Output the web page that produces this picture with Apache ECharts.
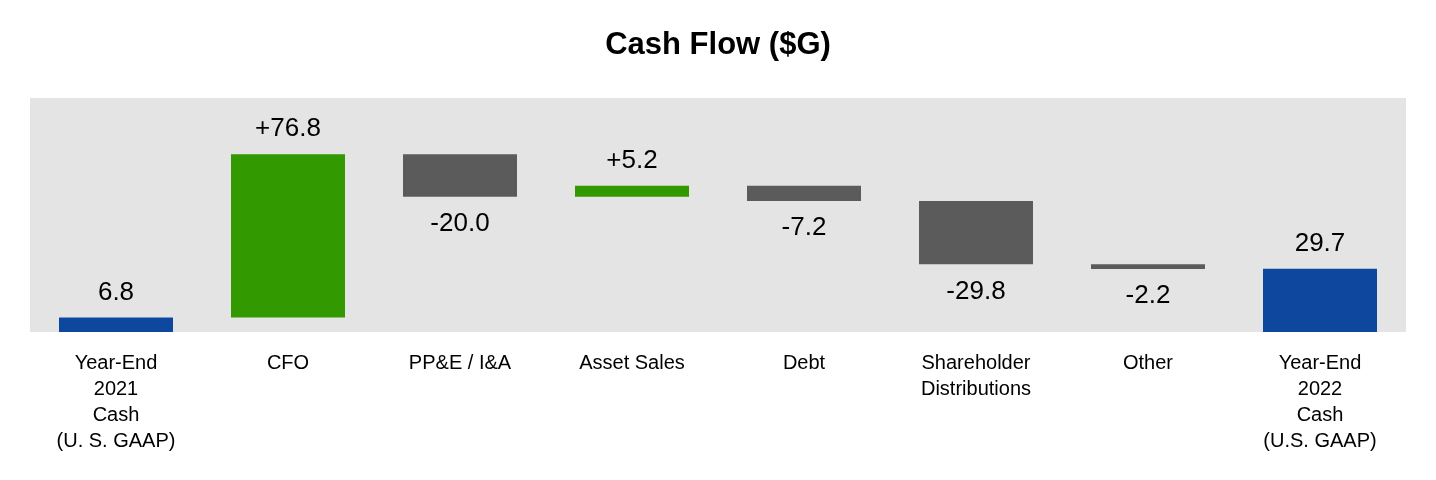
<!DOCTYPE html>
<html>
<head>
<meta charset="utf-8">
<script src="https://cdn.jsdelivr.net/npm/echarts@6/dist/echarts.min.js"></script>
<style>
  html, body { margin: 0; padding: 0; background: #fff; }
  #chart { width: 1436px; height: 480px; }
</style>
</head>
<body>
<div id="chart"></div>
<script>
// categories along the bottom
var categories = [
  'Year-End\n2021\nCash\n(U. S. GAAP)',
  'CFO',
  'PP&E / I&A',
  'Asset Sales',
  'Debt',
  'Shareholder\nDistributions',
  'Other',
  'Year-End\n2022\nCash\n(U.S. GAAP)'
];
// step values ($G), totals first/last
var changes = [6.8, 76.8, -20.0, 5.2, -7.2, -29.8, -2.2, 29.7];
var kinds = ['total', 'up', 'down', 'up', 'down', 'down', 'down', 'total'];
var valueLabels = ['6.8', '+76.8', '-20.0', '+5.2', '-7.2', '-29.8', '-2.2', '29.7'];

var colors = { total: '#0e479e', up: '#339900', down: '#5b5b5b' };
var font = "'Liberation Sans', Arial, sans-serif";

// build invisible base + visible step from the running total
var baseData = [];
var stepData = [];
var running = 0;
for (var i = 0; i < changes.length; i++) {
  var v = changes[i];
  var base;
  if (kinds[i] === 'total') {
    base = 0;
    running = v;
  } else if (v >= 0) {
    base = running;
    running += v;
  } else {
    running += v;
    base = running;
  }
  baseData.push(base);
  stepData.push({
    value: Math.abs(v),
    itemStyle: { color: colors[kinds[i]] },
    label: {
      position: v < 0 ? 'bottom' : 'top',
      distance: v < 0 ? 14 : 12,
      formatter: valueLabels[i]
    }
  });
}

var chart = echarts.init(document.getElementById('chart'));
chart.setOption({
  animation: false,
  title: {
    text: 'Cash Flow ($G)',
    left: 'center',
    top: 25,
    textStyle: { fontFamily: font, fontSize: 31, fontWeight: 'bold', color: '#000' }
  },
  grid: {
    left: 30,
    right: 30,
    top: 98,
    bottom: 148,
    show: true,
    backgroundColor: '#e4e4e4',
    borderWidth: 0
  },
  xAxis: {
    type: 'category',
    data: categories,
    axisLine: { show: false },
    axisTick: { show: false },
    axisLabel: {
      interval: 0,
      margin: 18,
      fontFamily: font,
      fontSize: 20,
      lineHeight: 26,
      color: '#000'
    }
  },
  yAxis: {
    type: 'value',
    min: 0,
    max: 110,
    show: false,
    splitLine: { show: false }
  },
  series: [
    {
      name: 'base',
      type: 'bar',
      stack: 'w',
      barWidth: 114,
      itemStyle: { color: 'transparent' },
      silent: true,
      data: baseData
    },
    {
      name: 'step',
      type: 'bar',
      stack: 'w',
      barWidth: 114,
      label: {
        show: true,
        fontFamily: font,
        fontSize: 26,
        color: '#000'
      },
      data: stepData
    }
  ]
});
</script>
</body>
</html>
